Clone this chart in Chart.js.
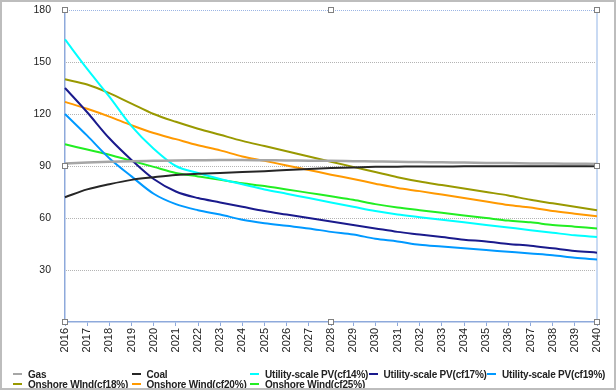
<!DOCTYPE html>
<html>
<head>
<meta charset="utf-8">
<script src="https://cdn.jsdelivr.net/npm/chart.js@4.4.1/dist/chart.umd.min.js"></script>
<style>
    html, body { margin: 0; padding: 0; background: #fff; }
    #wrap { position: relative; width: 616px; height: 390px; overflow: hidden; }
    #frame { position: absolute; left: 0; top: 0; width: 616px; height: 390px; box-sizing: border-box;
        border: 2px solid #bdbdbd; pointer-events: none; }
    #legend { position: absolute; left: 13px; top: 369px; display: grid;
        grid-template-columns: repeat(5, 118.5px); row-gap: 0;
        font: bold 10px "Liberation Sans", Arial, sans-serif; letter-spacing: -0.2px; color: #222; }
    #legend div { display: flex; align-items: center; height: 10px; white-space: nowrap; }
    #legend span.mk { display: inline-block; flex-shrink: 0; width: 9px; height: 2px; margin-right: 6px; }
</style>
</head>
<body>
<div id="wrap">
    <canvas id="chart" width="616" height="390"></canvas>
    <div id="legend"></div>
    <div id="frame"></div>
</div>
<script>
// years on the x axis
const years = ['2016','2017','2018','2019','2020','2021','2022','2023','2024','2025','2026','2027',
    '2028','2029','2030','2031','2032','2033','2034','2035','2036','2037','2038','2039','2040'];

const seriesNames = ['Gas', 'Coal', 'Utility-scale PV(cf14%)', 'Utility-scale PV(cf17%)', 'Utility-scale PV(cf19%)',
    'Onshore WInd(cf18%)', 'Onshore Wind(cf20%)', 'Onshore Wind(cf25%)'];

const gas   = [91.5, 92, 92.5, 92.8, 93, 93.2, 93.3, 93.4, 93.4, 93.3, 93.2, 93.1, 93, 92.8, 92.6, 92.4, 92.3, 92.1, 92, 91.8, 91.7, 91.5, 91.4, 91.3, 91.2];
const coal  = [72, 76.5, 79.5, 82, 83.5, 84.8, 85.5, 86, 86.5, 87, 87.7, 88.3, 88.8, 89.2, 89.5, 89.6, 89.7, 89.7, 89.8, 89.8, 89.8, 89.8, 89.8, 89.8, 89.8];
const pv14  = [163, 146, 130, 113, 100, 90, 86, 82.5, 79.5, 76.5, 74, 71.5, 69, 66.5, 64, 62, 60.5, 59, 57.5, 56, 54.5, 53, 51.5, 50, 49];
const pv17  = [135, 121, 106, 93.5, 82.5, 75.3, 71.5, 69, 66.5, 64, 62, 60, 58, 56, 54, 52, 50.5, 49, 47.5, 46.5, 45, 44, 42.5, 41, 40];
const pv19  = [120, 107.5, 94.5, 84, 74, 68, 64.5, 62, 59, 57, 55.5, 54, 52, 50.5, 48, 46.5, 44.5, 43.5, 42.5, 41.5, 40.5, 39.5, 38.5, 37, 36];
const wind18 = [140, 137, 132, 126, 120, 115.5, 111.5, 108, 104.5, 101.5, 98.5, 95.5, 92.5, 89.5, 86.5, 83.5, 81, 79, 77, 75, 73, 70.5, 68.5, 66.5, 64.5];
const wind20 = [127, 123, 118.5, 113.5, 109, 105.5, 102, 99, 95.5, 93, 90.3, 87.7, 85, 82.5, 79.8, 77.3, 75.5, 73.5, 71.5, 69.5, 67.5, 66, 64, 62.5, 61];
const wind25 = [102.5, 99.5, 96.5, 93, 89.5, 86, 84, 82, 80, 78.5, 76.5, 74.5, 72.5, 70.5, 68, 66, 64.5, 63, 61.5, 60, 58.5, 57.5, 56, 55, 54];

const yTicks = [0, 30, 60, 90, 120, 150, 180];

const colors = ['#a6a6a6', '#262626', '#00ffff', '#1a1a8c', '#0099ff', '#999900', '#ff9900', '#22ee22'];
const widths = [2.5, 2, 2, 2, 2, 2, 2, 2];
const values = [gas, coal, pv14, pv17, pv19, wind18, wind20, wind25];

const datasets = seriesNames.map((name, i) => ({
    label: name,
    data: values[i],
    borderColor: colors[i],
    backgroundColor: colors[i],
    borderWidth: widths[i],
    pointRadius: 0,
    cubicInterpolationMode: 'monotone',
    fill: false
}));

// html legend in fixed columns
const legendEl = document.getElementById('legend');
seriesNames.forEach((name, i) => {
    const d = document.createElement('div');
    d.innerHTML = '<span class="mk" style="background:' + colors[i] + '"></span>' + name;
    legendEl.appendChild(d);
});

// plot frame, dotted grid + selection handles
const framePlugin = {
    id: 'frame',
    beforeDatasetsDraw(chart) {
        const { ctx, chartArea: a, scales } = chart;
        ctx.save();
        ctx.strokeStyle = '#b4b4b4';
        ctx.lineWidth = 1;
        ctx.setLineDash([1, 1]);
        yTicks.forEach(v => {
            if (v === 0 || v === 180) return;
            const y = Math.round(scales.y.getPixelForValue(v)) + 0.5;
            ctx.beginPath();
            ctx.moveTo(a.left + 1, y);
            ctx.lineTo(a.right, y);
            ctx.stroke();
        });
        ctx.strokeStyle = '#9bb5e4';
        ctx.beginPath();
        ctx.moveTo(a.left, a.top + 0.5);
        ctx.lineTo(a.right, a.top + 0.5);
        ctx.stroke();
        ctx.setLineDash([]);
        ctx.strokeStyle = '#c9daf3';
        ctx.lineWidth = 2;
        ctx.beginPath();
        ctx.moveTo(a.right, a.top);
        ctx.lineTo(a.right, a.bottom);
        ctx.stroke();
        ctx.restore();
    },
    afterDraw(chart) {
        const { ctx, chartArea: a } = chart;
        const mx = (a.left + a.right) / 2, my = (a.top + a.bottom) / 2;
        const pts = [[a.left, a.top], [mx, a.top], [a.right, a.top], [a.left, my], [a.right, my],
            [a.left, a.bottom], [mx, a.bottom], [a.right, a.bottom]];
        ctx.save();
        ctx.fillStyle = '#fff';
        ctx.strokeStyle = '#808080';
        ctx.lineWidth = 1;
        pts.forEach(p => {
            const x = Math.round(p[0]) - 2.5, y = Math.round(p[1]) - 2.5;
            ctx.fillRect(x, y, 5, 5);
            ctx.strokeRect(x, y, 5, 5);
        });
        ctx.restore();
    }
};

new Chart(document.getElementById('chart'), {
    type: 'line',
    data: { labels: years, datasets: datasets },
    plugins: [framePlugin],
    options: {
        responsive: false,
        animation: false,
        layout: { padding: { left: 0, right: 19, top: 10, bottom: 0 } },
        plugins: { legend: { display: false }, tooltip: { enabled: false } },
        scales: {
            x: {
                offset: false,
                afterFit: s => { s.height = 68; },
                grid: { drawOnChartArea: false, drawTicks: true, tickLength: 4, color: '#8ea9db' },
                border: { color: '#8ea9db', width: 1.5 },
                ticks: {
                    autoSkip: false, maxRotation: 90, minRotation: 90, padding: 2,
                    color: '#222', font: { family: 'Liberation Sans', size: 11 }
                }
            },
            y: {
                min: 0, max: 180,
                afterFit: s => { s.width = 65; },
                afterBuildTicks: s => { s.ticks = yTicks.map(v => ({ value: v })); },
                grid: { drawOnChartArea: false, drawTicks: true, tickLength: 11, color: 'rgba(0,0,0,0)' },
                border: { color: '#8ea9db', width: 1.5 },
                ticks: {
                    padding: 3, color: '#222',
                    font: { family: 'Liberation Sans', size: 10.5 },
                    callback: v => v === 0 ? '' : v
                }
            }
        }
    }
});
</script>
</body>
</html>
